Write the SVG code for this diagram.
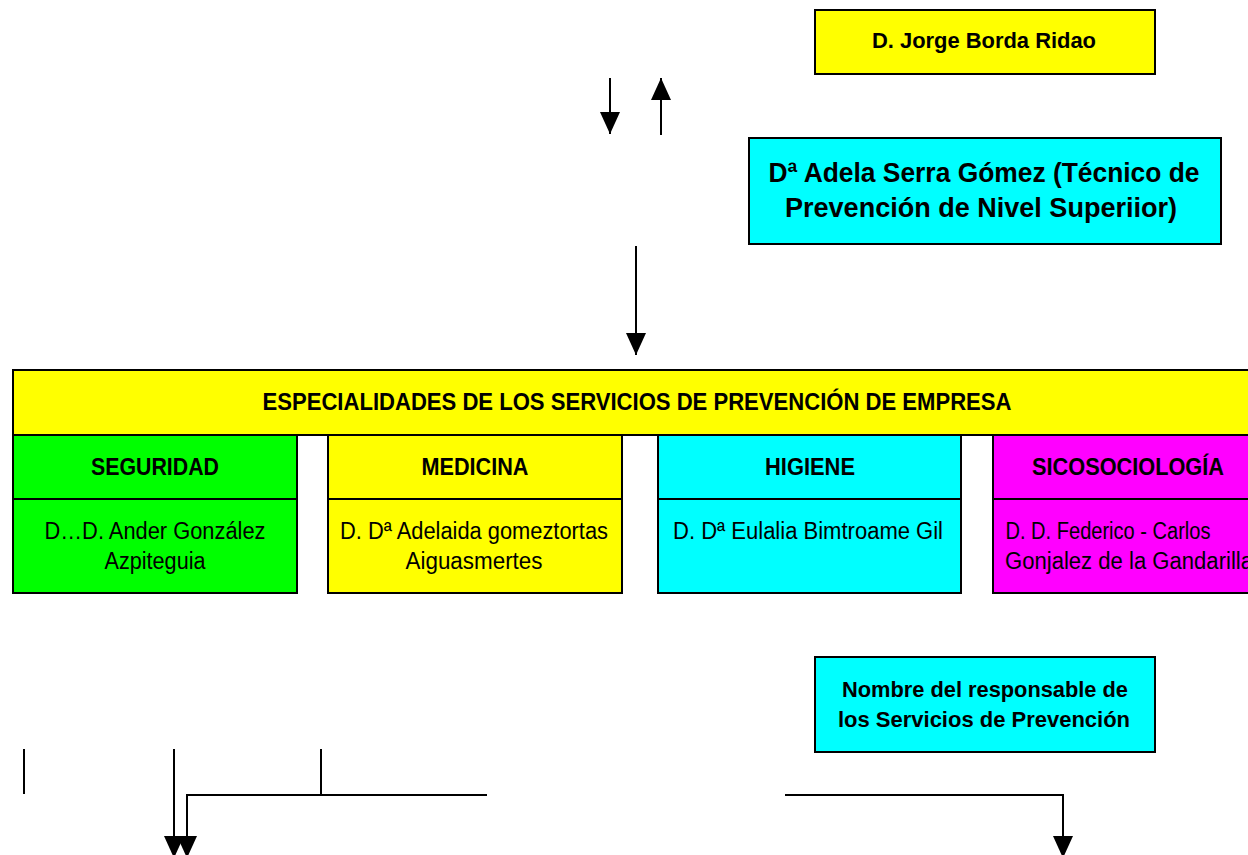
<svg xmlns="http://www.w3.org/2000/svg" width="1248" height="855" viewBox="0 0 1248 855">
<defs>
<marker id="ahb" viewBox="0 0 22 20" refX="22" refY="10" markerWidth="22" markerHeight="20" markerUnits="userSpaceOnUse" orient="auto">
<path d="M0,0 L22,10 L0,20 Z" fill="#000"/>
</marker>
</defs>
<style>
.box{stroke:#000;stroke-width:2}
.b{font-family:"Liberation Sans",Arial,sans-serif;font-weight:bold;fill:#000;text-anchor:middle}
.n{font-family:"Liberation Sans",Arial,sans-serif;fill:#000;text-anchor:middle}
.c{stroke:#000;stroke-width:2;fill:none}
</style>
<rect width="1248" height="855" fill="#fff"/>

<g id="jorge">
<rect class="box" x="815" y="10" width="340" height="64" fill="#ffff00"/>
<text class="b" x="984" y="48" font-size="22" textLength="224" lengthAdjust="spacingAndGlyphs">D. Jorge Borda Ridao</text>
</g>

<g id="adela">
<rect class="box" x="749" y="138" width="472" height="106" fill="#00ffff"/>
<text class="b" x="984" y="182" font-size="27" textLength="431" lengthAdjust="spacingAndGlyphs">Dª Adela Serra Gómez (Técnico de</text>
<text class="b" x="981" y="217" font-size="27" textLength="392" lengthAdjust="spacingAndGlyphs">Prevención de Nivel Superiior)</text>
</g>

<g id="especialidades">
<rect class="box" x="13" y="370" width="1250" height="65" fill="#ffff00"/>
<text class="b" x="637" y="410" font-size="24" textLength="749" lengthAdjust="spacingAndGlyphs">ESPECIALIDADES DE  LOS SERVICIOS DE PREVENCIÓN DE EMPRESA</text>
</g>

<g id="seguridad">
<rect class="box" x="13" y="435" width="284" height="158" fill="#00ff00"/>
<line class="c" x1="13" y1="499" x2="297" y2="499"/>
<text class="b" x="155" y="475" font-size="24.5" textLength="128" lengthAdjust="spacingAndGlyphs">SEGURIDAD</text>
<text class="n" x="155" y="539" font-size="23.5" textLength="221" lengthAdjust="spacingAndGlyphs">D…D. Ander González</text>
<text class="n" x="155" y="569" font-size="23.5" textLength="101" lengthAdjust="spacingAndGlyphs">Azpiteguia</text>
</g>

<g id="medicina">
<rect class="box" x="328" y="435" width="294" height="158" fill="#ffff00"/>
<line class="c" x1="328" y1="499" x2="622" y2="499"/>
<text class="b" x="475" y="475" font-size="24.5" textLength="107" lengthAdjust="spacingAndGlyphs">MEDICINA</text>
<text class="n" x="474" y="539" font-size="23.5" textLength="268" lengthAdjust="spacingAndGlyphs">D. Dª Adelaida gomeztortas</text>
<text class="n" x="474" y="569" font-size="23.5" textLength="137" lengthAdjust="spacingAndGlyphs">Aiguasmertes</text>
</g>

<g id="higiene">
<rect class="box" x="658" y="435" width="303" height="158" fill="#00ffff"/>
<line class="c" x1="658" y1="499" x2="961" y2="499"/>
<text class="b" x="810" y="475" font-size="24.5" textLength="90" lengthAdjust="spacingAndGlyphs">HIGIENE</text>
<text class="n" x="808" y="539" font-size="23.5" textLength="270" lengthAdjust="spacingAndGlyphs">D. Dª Eulalia Bimtroame Gil</text>
</g>

<g id="sicosociologia">
<rect class="box" x="993" y="435" width="270" height="158" fill="#ff00ff"/>
<line class="c" x1="993" y1="499" x2="1263" y2="499"/>
<text class="b" x="1128" y="475" font-size="24.5" textLength="192" lengthAdjust="spacingAndGlyphs">SICOSOCIOLOGÍA</text>
<text class="n" x="1108" y="539" font-size="23.5" textLength="205" lengthAdjust="spacingAndGlyphs">D. D. Federico - Carlos</text>
<text class="n" x="1129" y="569" font-size="23.5" textLength="248" lengthAdjust="spacingAndGlyphs">Gonjalez de la Gandarilla</text>
</g>

<g id="responsable">
<rect class="box" x="815" y="657" width="340" height="95" fill="#00ffff"/>
<text class="b" x="985" y="697" font-size="22" textLength="286" lengthAdjust="spacingAndGlyphs">Nombre del responsable de</text>
<text class="b" x="984" y="727" font-size="22" textLength="292" lengthAdjust="spacingAndGlyphs">los Servicios de Prevención</text>
</g>

<g id="connectors">
<line class="c" x1="610" y1="78" x2="610" y2="134" marker-end="url(#ahb)"/>
<line class="c" x1="661" y1="135" x2="661" y2="78" marker-end="url(#ahb)"/>
<line class="c" x1="636" y1="246" x2="636" y2="355" marker-end="url(#ahb)"/>
<line class="c" x1="24" y1="749" x2="24" y2="794"/>
<line class="c" x1="321" y1="749" x2="321" y2="795"/>
<line class="c" x1="174" y1="749" x2="174" y2="858" marker-end="url(#ahb)"/>
<polyline class="c" points="487,795 187,795 187,858" marker-end="url(#ahb)"/>
<polyline class="c" points="785,795 1063,795 1063,858" marker-end="url(#ahb)"/>
</g>
</svg>
